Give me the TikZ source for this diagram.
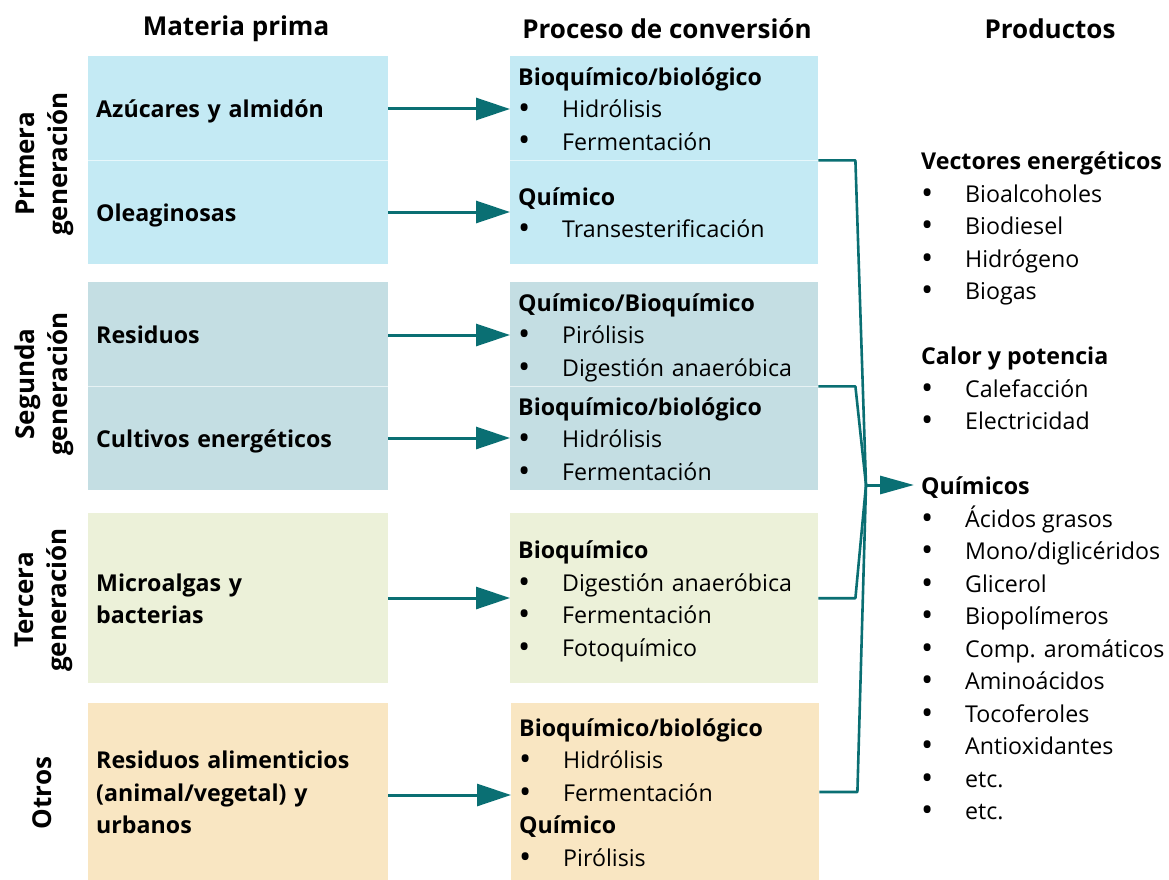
\documentclass[tikz,border=0pt]{standalone}
\usepackage{fontspec}
\setmainfont{Open Sans}
\usepackage{tikz}
\usetikzlibrary{arrows.meta}
\usetikzlibrary{positioning}

\definecolor{azulA}{HTML}{C4EAF4}
\definecolor{azulB}{HTML}{C4DEE3}
\definecolor{verdeC}{HTML}{ECF1D9}
\definecolor{naranjaD}{HTML}{F9E6C2}
\definecolor{petroleo}{HTML}{0A6F73}

\newcommand{\txt}{\fontsize{23.2}{32.5}\selectfont}
\newcommand{\grande}{\fontsize{26}{33}\selectfont}
\newcommand{\lin}{\rule[-6.75pt]{0pt}{32.5pt}}
\newcommand{\itm}[1]{\makebox[44pt][l]{\raisebox{-1.8pt}{\scalebox{1.4}{\textbullet}}}#1\lin}
\newcommand{\ttl}[1]{\textbf{#1}\lin}

\tikzset{
    caja/.style={rectangle, anchor=north west, inner xsep=8pt, inner ysep=0pt,
        minimum height=104pt, text width=284pt, align=left, font=\txt},
    proc/.style={caja, text width=292pt},
    encabezado/.style={font=\grande\bfseries, inner sep=0pt},
    gen/.style={font=\grande\bfseries, rotate=90, align=center, inner sep=0pt},
    prod/.style={font=\txt, inner sep=0pt, align=left},
    flecha/.style={petroleo, line width=3pt, -{Triangle[length=34pt,width=22pt]}},
    union/.style={petroleo, line width=2.6pt, line join=round},
    divisor/.style={white!60!#1, line width=1pt}
}

\begin{document}
\begin{tikzpicture}[x=1pt,y=-1pt]
    \useasboundingbox (0,0) rectangle (1169,880);

    % encabezados
    \node[encabezado] (hMat) at (236,29) {Materia prima};
    \node[encabezado] (hPro) at (667,29) {Proceso de conversión};
    \node[encabezado] (hPrd) at (1050,29) {Productos};

    % generaciones
    \node[gen] (g1) at (44,164) {Primera\\generación};
    \node[gen] (g2) at (44,384) {Segunda\\generación};
    \node[gen] (g3) at (44,600) {Tercera\\generación};
    \node[gen] (g4) at (42,793) {Otros};

    % materia prima
    \node[caja, fill=azulA] (azu) at (88,56) {\ttl{Azúcares y almidón}};
    \node[caja, fill=azulA] (ole) at (88,160) {\ttl{Oleaginosas}};
    \node[caja, fill=azulB] (res) at (88,282) {\ttl{Residuos}};
    \node[caja, fill=azulB] (cul) at (88,386) {\ttl{Cultivos energéticos}};
    \node[caja, fill=verdeC, minimum height=170pt] (mic) at (88,513) {\ttl{Microalgas y}\\\ttl{bacterias}};
    \node[caja, fill=naranjaD, minimum height=177pt] (ali) at (88,703)
        {\ttl{Residuos alimenticios}\\\ttl{(animal/vegetal) y}\\\ttl{urbanos}};

    % procesos
    \node[proc, fill=azulA] (bio1) at (510,56) {\ttl{Bioquímico/biológico}\\\itm{Hidrólisis}\\\itm{Fermentación}};
    \node[proc, fill=azulA] (qui1) at (510,160) {\ttl{Químico}\\\itm{Transesterificación}};
    \node[proc, fill=azulB] (qbi2) at (510,282) {\ttl{Químico/Bioquímico}\\\itm{Pirólisis}\\\itm{Digestión anaeróbica}};
    \node[proc, fill=azulB] (bio2) at (510,386) {\ttl{Bioquímico/biológico}\\\itm{Hidrólisis}\\\itm{Fermentación}};
    \node[proc, fill=verdeC, minimum height=170pt] (bio3) at (510,513)
        {\ttl{Bioquímico}\\\itm{Digestión anaeróbica}\\\itm{Fermentación}\\\itm{Fotoquímico}};
    \node[proc, fill=naranjaD, minimum height=177pt] (bio4) at (511,703)
        {\ttl{Bioquímico/biológico}\\\itm{Hidrólisis}\\\itm{Fermentación}\\\ttl{Químico}\\\itm{Pirólisis}};

    \draw[divisor=azulA] (azu.south west) -- (azu.south east);
    \draw[divisor=azulB] (res.south west) -- (res.south east);
    \draw[divisor=azulA] (bio1.south west) -- (bio1.south east);
    \draw[divisor=azulB] (qbi2.south west) -- (qbi2.south east);

    % flechas
    \draw[flecha] (azu.east |- 0,109) -- (bio1.west |- 0,109);
    \draw[flecha] (ole.east |- 0,212) -- (qui1.west |- 0,212);
    \draw[flecha] (res.east |- 0,335) -- (qbi2.west |- 0,335);
    \draw[flecha] (cul.east |- 0,438) -- (bio2.west |- 0,438);
    \draw[flecha] (mic.east |- 0,598) -- (bio3.west |- 0,598);
    \draw[flecha] (ali.east |- 0,795) -- (bio4.west |- 0,795);

    % productos
    \node[prod, anchor=west] (vec) at (921,160) {\ttl{Vectores energéticos}};
    \node[prod, anchor=north west] (vecL) at (vec.south west)
        {\itm{Bioalcoholes}\\\itm{Biodiesel}\\\itm{Hidrógeno}\\\itm{Biogas}};
    \node[prod, anchor=west] (cal) at (921,355) {\ttl{Calor y potencia}};
    \node[prod, anchor=north west] (calL) at (cal.south west)
        {\itm{Calefacción}\\\itm{Electricidad}};
    \node[prod, anchor=west] (quim) at (921,485) {\ttl{Químicos}};
    \node[prod, anchor=north west] (quimL) at (quim.south west)
        {\itm{Ácidos grasos}\\\itm{Mono/diglicéridos}\\\itm{Glicerol}\\\itm{Biopolímeros}\\\itm{Comp. aromáticos}\\\itm{Aminoácidos}\\\itm{Tocoferoles}\\\itm{Antioxidantes}\\\itm{etc.}\\\itm{etc.}};

    % union hacia productos
    \coordinate (M) at (866,485);
    \draw[union] (bio1.south east) -- ++(37,0) -- (M);
    \draw[union] (qbi2.south east) -- ++(37,0) -- (M);
    \draw[union] (bio3.east) -- ++(37,0) -- (M);
    \draw[union] (bio4.east |- 0,792) -- ++(38,0) -- (M);
    \draw[petroleo, line width=3pt, shorten >=7pt, -{Triangle[length=34pt,width=18pt]}] (M) -- (quim.west);
\end{tikzpicture}
\end{document}
